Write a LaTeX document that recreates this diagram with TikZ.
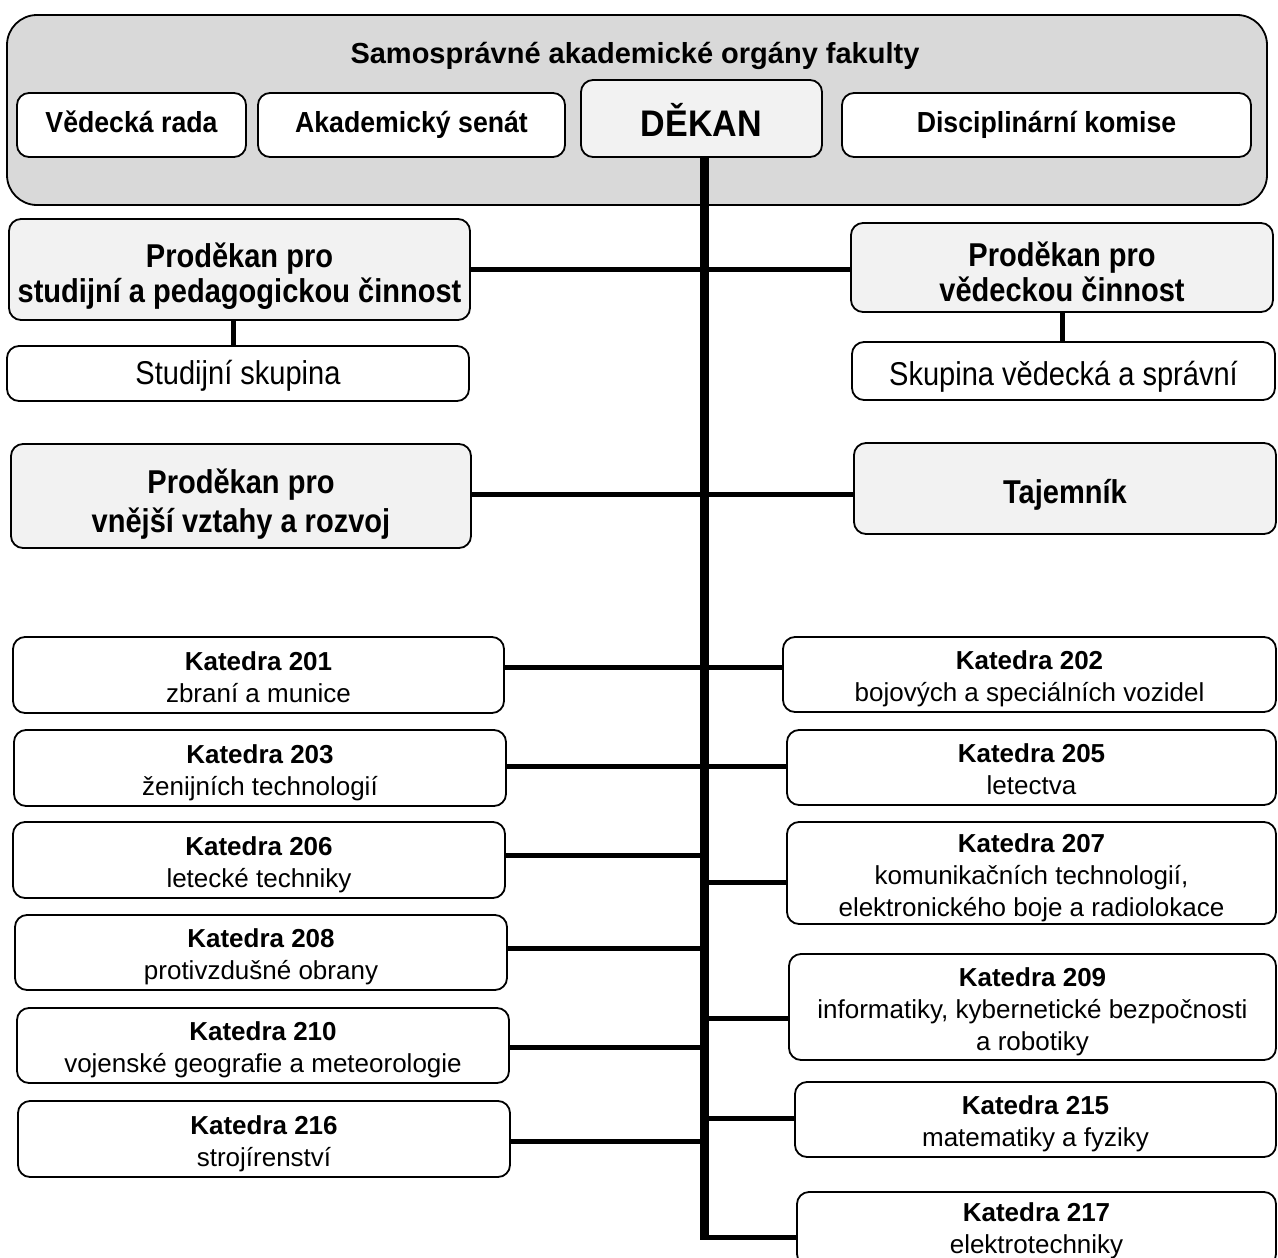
\documentclass[tikz,border=0pt]{standalone}
\usepackage{fontspec}
\setmainfont{Liberation Sans}
\newfontfamily\topfont{Liberation Sans}[FakeStretch=0.92]
\newfontfamily\midfont{Liberation Sans}[FakeStretch=0.88]
\usepackage{tikz}
\definecolor{boxgrey}{HTML}{F2F2F2}
\definecolor{groupgrey}{HTML}{D9D9D9}

\begin{document}
\begin{tikzpicture}[x=1pt, y=-1pt,
  box/.style={draw, line width=1.8pt, rounded corners=12pt, fill=white, inner sep=0pt, align=center},
  descent/.style={execute at end node={\vphantom{gj}}},
  topbox/.style={box, font=\topfont\bfseries\fontsize{29}{33}\selectfont, text height=22pt, text depth=6.5pt},
  midbox/.style={box, font=\midfont\fontsize{33}{35}\selectfont},
  midhead/.style={midbox, descent, fill=boxgrey, font=\midfont\bfseries\fontsize{33}{35}\selectfont, text height=72pt},
  kat/.style={box, descent, font=\fontsize{26}{32}\selectfont, text height=60pt},
  trunk/.style={line width=9pt},
  branch/.style={line width=5pt}]
\useasboundingbox (0,0) rectangle (1278,1258);
\fill[white] (0,0) rectangle (1278,1258);

% samospravne organy
\node[box, fill=groupgrey, rounded corners=30pt, minimum width=1260pt, minimum height=190pt] (organy) at (637,110) {};
\node[anchor=base, font=\bfseries\fontsize{29}{33}\selectfont] (title) at (635,63) {Samosprávné akademické orgány fakulty};
\node[topbox, minimum width=229pt, minimum height=64pt] (vedrada) at (131.5,125) {Vědecká rada};
\node[topbox, minimum width=307pt, minimum height=64pt] (senat) at (411.5,125) {Akademický senát};
\node[topbox, fill=boxgrey, font=\topfont\bfseries\fontsize{37}{40}\selectfont, text height=38pt, text depth=3pt, minimum width=241pt, minimum height=77pt] (dekan) at (701.5,118.5) {DĚKAN};
\node[topbox, minimum width=409pt, minimum height=64pt] (komise) at (1046.5,125) {Disciplinární komise};

% prodekani
\node[midhead, minimum width=461pt, minimum height=101pt] (prostud) at (239.5,269.5) {Proděkan pro\\studijní a pedagogickou činnost};
\node[midhead, text height=74pt, minimum width=422pt, minimum height=89pt] (proved) at (1062,267.5) {Proděkan pro\\vědeckou činnost};
\node[midbox, text height=26pt, text depth=5pt, minimum width=462pt, minimum height=55pt] (studsk) at (238,373.5) {Studijní skupina};
\node[midbox, text height=32pt, text depth=4pt, minimum width=423pt, minimum height=58pt] (vedsk) at (1063.5,371) {Skupina vědecká a správní};
\node[midhead, font=\midfont\bfseries\fontsize{33}{39}\selectfont, text height=80pt, minimum width=460pt, minimum height=104pt] (provnej) at (241,496) {Proděkan pro\\vnější vztahy a rozvoj};
\node[midhead, text height=31pt, text depth=2pt, minimum width=422pt, minimum height=91pt] (tajem) at (1065,488.5) {Tajemník};

% katedry vlevo
\node[kat, minimum width=491pt, minimum height=76pt] (k201) at (258.5,675) {\textbf{Katedra 201}\\zbraní a munice};
\node[kat, minimum width=492pt, minimum height=76pt] (k203) at (260,768) {\textbf{Katedra 203}\\ženijních technologií};
\node[kat, minimum width=492pt, minimum height=76pt] (k206) at (259,860) {\textbf{Katedra 206}\\letecké techniky};
\node[kat, minimum width=492pt, minimum height=75pt] (k208) at (261,952.5) {\textbf{Katedra 208}\\protivzdušné obrany};
\node[kat, minimum width=492pt, minimum height=75pt] (k210) at (263,1045.5) {\textbf{Katedra 210}\\vojenské geografie a meteorologie};
\node[kat, minimum width=492pt, minimum height=76pt] (k216) at (264,1139) {\textbf{Katedra 216}\\strojírenství};

% katedry vpravo
\node[kat, minimum width=493pt, minimum height=75pt] (k202) at (1029.5,674.5) {\textbf{Katedra 202}\\bojových a speciálních vozidel};
\node[kat, minimum width=489pt, minimum height=75pt] (k205) at (1031.5,767.5) {\textbf{Katedra 205}\\letectva};
\node[kat, text height=92pt, minimum width=489pt, minimum height=102pt] (k207) at (1031.5,873) {\textbf{Katedra 207}\\komunikačních technologií,\\elektronického boje a radiolokace};
\node[kat, text height=92pt, minimum width=487pt, minimum height=106pt] (k209) at (1032.5,1007) {\textbf{Katedra 209}\\informatiky, kybernetické bezpočnosti\\a robotiky};
\node[kat, minimum width=481pt, minimum height=75pt] (k215) at (1035.5,1119.5) {\textbf{Katedra 215}\\matematiky a fyziky};
\node[kat, text height=54pt, minimum width=479pt, minimum height=74pt] (k217) at (1036.5,1229) {\textbf{Katedra 217}\\elektrotechniky};

% vazby
\coordinate (trunkend) at (704,1240);
\draw[trunk] (dekan.south -| trunkend) -- (trunkend);
\coordinate (tpro) at (704,269);
\coordinate (tvnej) at (704,494);
\draw[branch] (prostud.east |- tpro) -- (tpro) -- (proved.west |- tpro);
\draw[branch] (provnej.east |- tvnej) -- (tvnej) -- (tajem.west |- tvnej);
\draw[branch] ([xshift=-6pt]prostud.south) -- ([xshift=-6pt]prostud.south |- studsk.north);
\draw[branch] (proved.south) -- (proved.south |- vedsk.north);
\foreach \n/\y in {201/667, 203/766, 206/855, 208/948, 210/1047, 216/1141} {
  \coordinate (t\n) at (704,\y);
  \draw[branch] (k\n.east |- t\n) -- (t\n);
}
\foreach \n/\y in {202/667, 205/766, 207/882, 209/1018, 215/1118, 217/1237} {
  \coordinate (t\n) at (704,\y);
  \draw[branch] (t\n) -- (k\n.west |- t\n);
}
\end{tikzpicture}
\end{document}
